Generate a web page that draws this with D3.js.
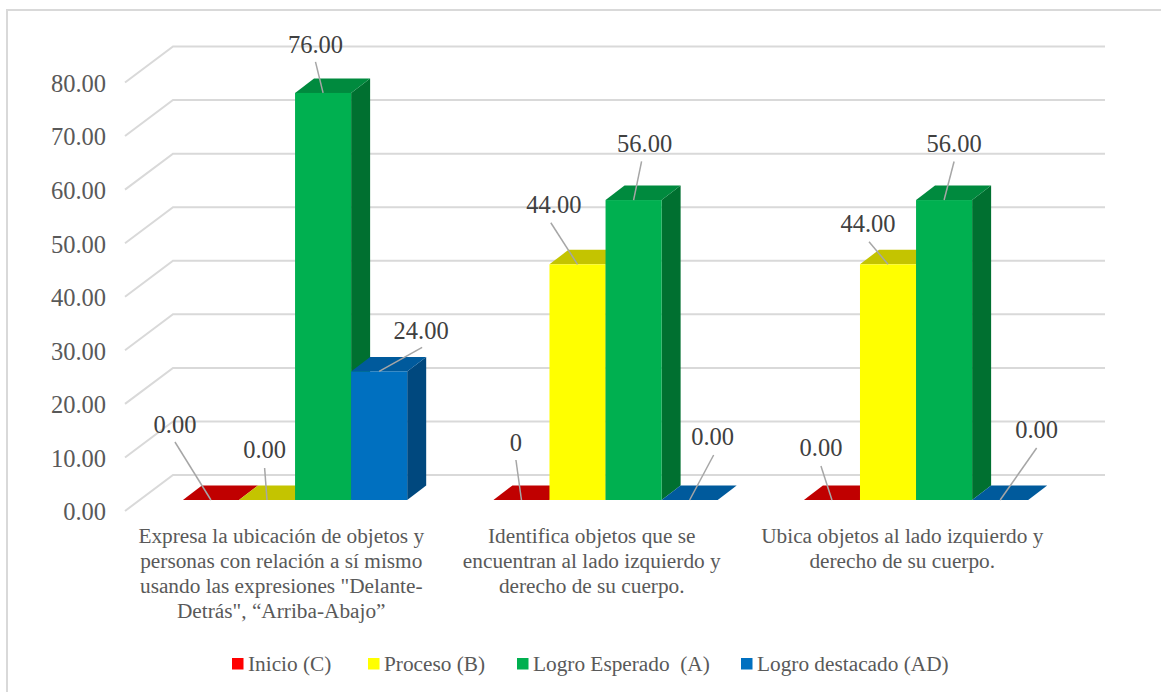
<!DOCTYPE html>
<html lang="en">
<head>
    <meta charset="UTF-8">
    <title>Logro por indicador</title>
    <script src="https://d3js.org/d3.v7.min.js"></script>
    <style>
        html, body { margin: 0; padding: 0; background: #fff; overflow: hidden; }
        svg { display: block; font-family: "Liberation Serif", serif; }
    </style>
</head>
<body>
<script>
    // data
    var categories = ["cat1", "cat2", "cat3"];
    var categoryLines = [
        ["Expresa la ubicación de objetos y", "personas con relación a sí mismo", "usando las expresiones  \"Delante-", "Detrás\", “Arriba-Abajo”"],
        ["Identifica objetos que se", "encuentran al lado izquierdo y", "derecho de su cuerpo."],
        ["Ubica objetos al lado izquierdo y", "derecho de su cuerpo."]
    ];
    var seriesNames = ["Inicio (C)", "Proceso (B)", "Logro Esperado  (A)", "Logro destacado (AD)"];
    var inicio = [0, 0, 0];
    var proceso = [0, 44, 44];
    var esperado = [76, 56, 56];
    var destacado = [24, 0, 0];
    var seriesValues = [inicio, proceso, esperado, destacado];
    var valueTicks = [0, 10, 20, 30, 40, 50, 60, 70, 80];

    // label text per bar (the red one of group 2 has no decimals in the original)
    var labelTexts = [
        ["0.00", "0", "0.00"],
        ["0.00", "44.00", "44.00"],
        ["76.00", "56.00", "56.00"],
        ["24.00", "0.00", "0.00"]
    ];

    // layout, not data
    var seriesColors = [
        {front: "#ff0000", top: "#c00000", side: "#a00000"},
        {front: "#ffff00", top: "#c4c400", side: "#a0a000"},
        {front: "#00b050", top: "#008a3e", side: "#007030"},
        {front: "#0070c0", top: "#005a9c", side: "#00487e"}
    ];
    // data label placement relative to the point its leader ends on:
    // [text dx, text baseline dy, leader dx, leader dy]
    var labelOffsets = [
        [[-36, -67, -36, -58], [-5.5, -49, -5.5, -40], [-11, -44, -11, -34]],
        [[-2.4, -42, -2.4, -32], [-23.7, -51.6, -26.7, -41.6], [-20, -32.6, -19, -22.6]],
        [[-7.6, -40, -7.6, -31], [11, -47.6, 8, -38.6], [10, -47.6, 10, -38.6]],
        [[42, -32, 43, -24], [23, -55, 24, -45], [36.5, -62, 36.5, -52]]
    ];
    var legendX = [232, 368, 517, 741];

    var wallDepth = {dx: 48, dy: -36};
    var barShift = {dx: 15.3, dy: -11};
    var barDepth = {dx: 19, dy: -14.5};

    var svg = d3.select("body").append("svg")
        .attr("width", 1161)
        .attr("height", 692);

    // chart frame runs off the right and bottom of the crop
    svg.append("path")
        .attr("d", "M7,700V10H1170")
        .attr("fill", "none")
        .attr("stroke", "#d9d9d9")
        .attr("stroke-width", 2);

    var y = d3.scaleLinear().domain([0, 80]).range([511, 82.5]);
    var x0 = d3.scaleBand().domain(categories).range([124.5, 1056])
        .paddingInner(0.2777).paddingOuter(0.13885);
    var x1 = d3.scaleBand().domain(d3.range(seriesNames.length)).range([0, x0.bandwidth()]);

    // walls
    var grid = svg.append("g")
        .attr("fill", "none")
        .attr("stroke", "#d9d9d9")
        .attr("stroke-width", 2);
    grid.selectAll("path")
        .data(valueTicks)
        .enter()
        .append("path")
        .attr("d", function(d) {
            return "M125," + y(d) + "L" + (125 + wallDepth.dx) + "," + (y(d) + wallDepth.dy) + "H1105";
        });

    // y axis labels
    var yAxis = svg.append("g")
        .attr("transform", "translate(106,0)")
        .call(d3.axisLeft(y).tickValues(valueTicks).tickFormat(d3.format(".2f")).tickSize(0).tickPadding(0));
    yAxis.select(".domain").remove();
    yAxis.selectAll("text")
        .attr("dy", "0.36em")
        .style("font-family", "'Liberation Serif', serif")
        .style("font-size", "24.5px")
        .style("fill", "#595959");

    // bars
    var poly = d3.line();
    var bars = svg.append("g");
    var leaders = [];
    categories.forEach(function(cat, c) {
        seriesNames.forEach(function(name, s) {
            var v = seriesValues[s][c];
            var left = x0(cat) + x1(s) + barShift.dx;
            var right = left + x1.bandwidth();
            var base = y(0) + barShift.dy;
            var top = y(v) + barShift.dy;
            var col = seriesColors[s];
            bars.append("path")
                .attr("fill", col.side)
                .attr("d", poly([[right, top], [right + barDepth.dx, top + barDepth.dy], [right + barDepth.dx, base + barDepth.dy], [right, base]]) + "Z");
            bars.append("path")
                .attr("fill", col.top)
                .attr("d", poly([[left, top], [left + barDepth.dx, top + barDepth.dy], [right + barDepth.dx, top + barDepth.dy], [right, top]]) + "Z");
            bars.append("rect")
                .attr("x", left)
                .attr("y", top)
                .attr("width", x1.bandwidth())
                .attr("height", base - top)
                .attr("fill", col.front);
            leaders.push({
                x: (left + right) / 2,
                y: top,
                text: labelTexts[s][c],
                off: labelOffsets[s][c]
            });
        });
    });

    // leader lines and data labels
    var labels = svg.append("g");
    labels.selectAll("line")
        .data(leaders)
        .enter()
        .append("line")
        .attr("x1", function(d) { return d.x; })
        .attr("y1", function(d) { return d.y; })
        .attr("x2", function(d) { return d.x + d.off[2]; })
        .attr("y2", function(d) { return d.y + d.off[3]; })
        .attr("stroke", "#a6a6a6")
        .attr("stroke-width", 1.5);
    labels.selectAll("text")
        .data(leaders)
        .enter()
        .append("text")
        .attr("x", function(d) { return d.x + d.off[0]; })
        .attr("y", function(d) { return d.y + d.off[1]; })
        .attr("text-anchor", "middle")
        .style("font-size", "24.5px")
        .style("fill", "#404040")
        .text(function(d) { return d.text; });

    // category labels
    var catLabels = svg.append("g")
        .style("font-size", "21.3px")
        .style("fill", "#595959")
        .style("white-space", "pre")
        .attr("text-anchor", "middle");
    categories.forEach(function(cat, c) {
        categoryLines[c].forEach(function(line, i) {
            catLabels.append("text")
                .attr("x", x0(cat) + x0.bandwidth() / 2 + 1.5)
                .attr("y", 543 + i * 25)
                .text(line);
        });
    });

    // legend
    var legend = svg.append("g");
    seriesNames.forEach(function(name, s) {
        legend.append("rect")
            .attr("x", legendX[s])
            .attr("y", 658)
            .attr("width", 11.5)
            .attr("height", 11.5)
            .attr("fill", seriesColors[s].front);
        legend.append("text")
            .attr("x", legendX[s] + 16)
            .attr("y", 671)
            .style("font-size", "21.3px")
            .style("fill", "#595959")
            .style("white-space", "pre")
            .text(name);
    });
</script>
</body>
</html>
